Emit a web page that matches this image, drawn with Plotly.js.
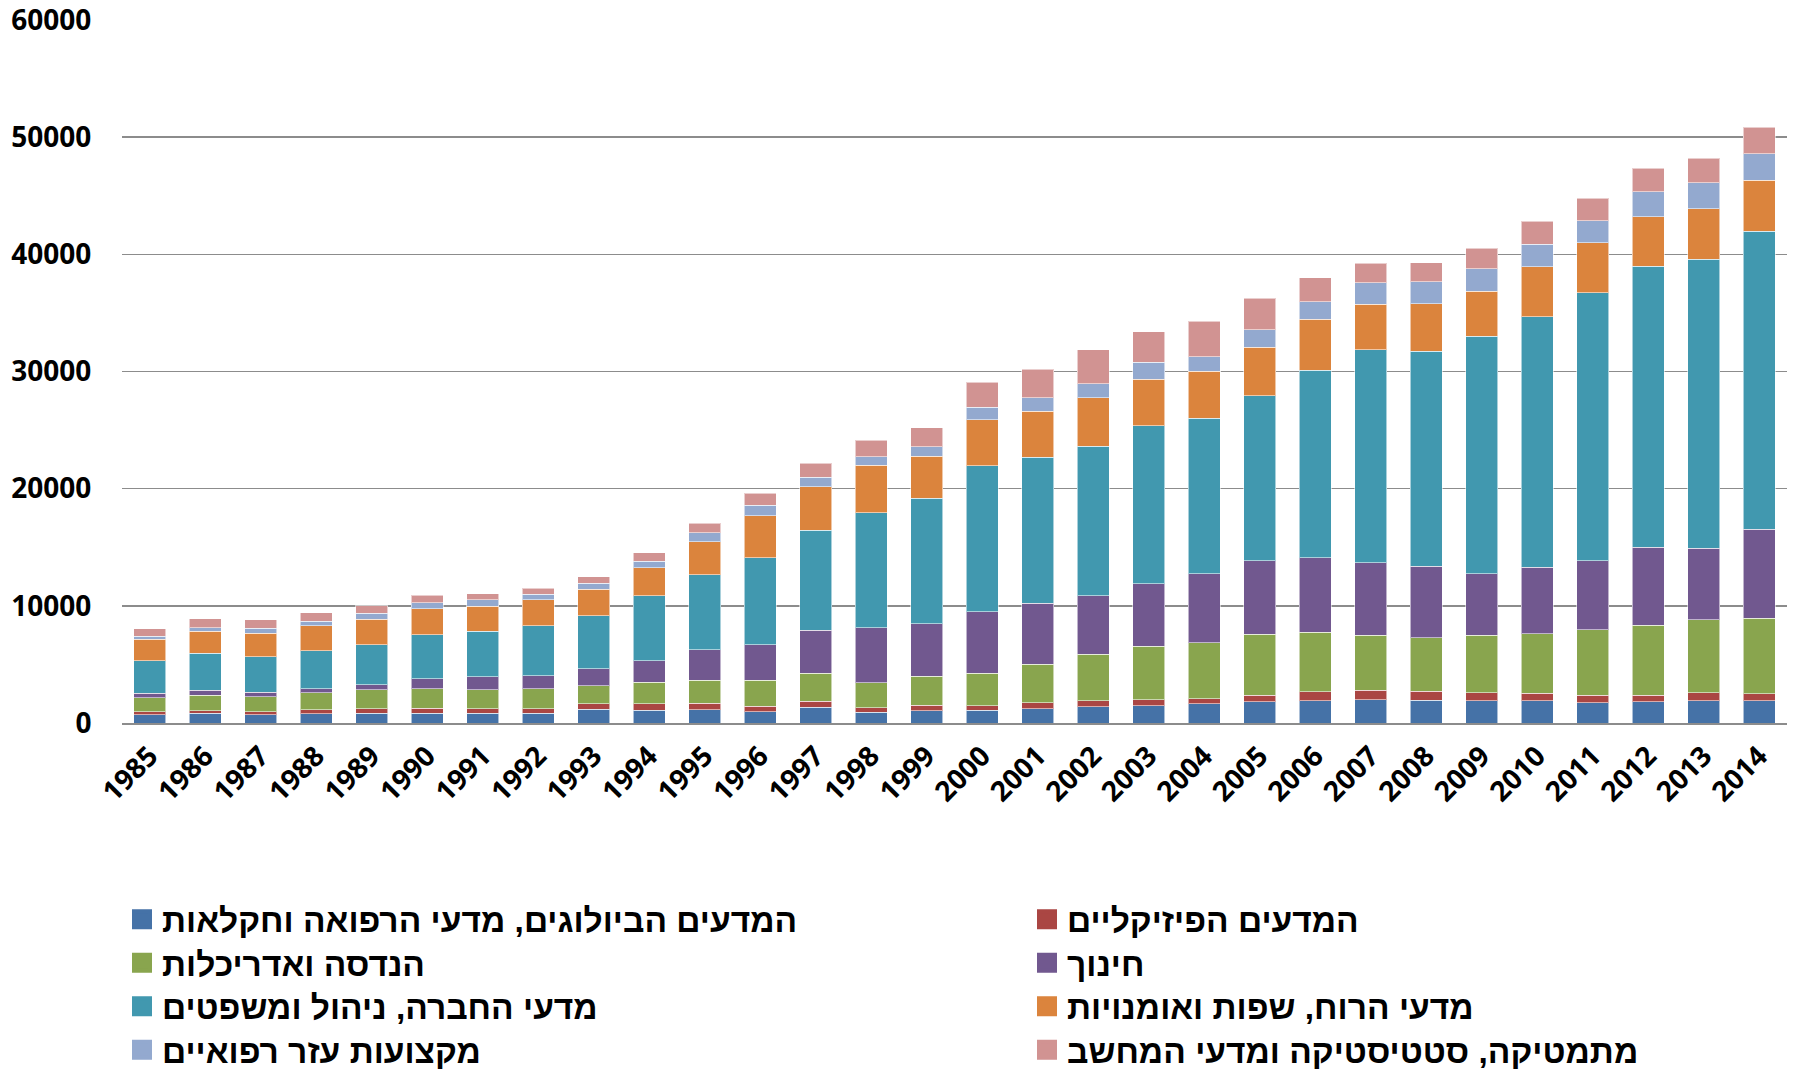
<!DOCTYPE html>
<html>
<head>
<meta charset="utf-8">
<script src="https://cdn.plot.ly/plotly-3.0.1.min.js"></script>
<style>html,body{margin:0;padding:0;background:#fff;}#chart{width:1796px;height:1071px;}</style>
</head>
<body>
<div id="chart"></div>
<script>
const years = ['1985','1986','1987','1988','1989','1990','1991','1992','1993','1994','1995','1996','1997','1998','1999','2000','2001','2002','2003','2004','2005','2006','2007','2008','2009','2010','2011','2012','2013','2014'];

const seriesNames = [
  'המדעים הביולוגים, מדעי הרפואה וחקלאות',
  'המדעים הפיזיקליים',
  'הנדסה ואדריכלות',
  'חינוך',
  'מדעי החברה, ניהול ומשפטים',
  'מדעי הרוח, שפות ואומנויות',
  'מקצועות עזר רפואיים',
  'מתמטיקה, סטטיסטיקה ומדעי המחשב'
];

const bio  = [710,830,710,800,850,830,830,830,1170,1100,1140,970,1360,910,1050,1080,1220,1390,1480,1640,1810,1920,1990,1950,1920,1920,1740,1810,1920,1920];
const phys = [260,220,230,310,380,450,400,400,480,530,540,480,490,400,460,400,510,490,510,450,560,760,800,770,660,620,630,560,660,590];
const eng  = [1200,1340,1310,1480,1620,1630,1620,1680,1540,1830,1960,2190,2380,2130,2500,2750,3300,4000,4570,4770,5190,5060,4700,4560,4910,5090,5570,5990,6240,6410];
const edu  = [370,400,370,340,430,880,1110,1140,1450,1840,2610,3060,3670,4690,4460,5260,5200,4970,5340,5860,6270,6370,6170,6100,5230,5680,5890,6620,6090,7630];
const soc  = [2790,3160,3050,3220,3420,3730,3850,4270,4530,5560,6390,7390,8550,9800,10730,12470,12470,12790,13470,13310,14080,15990,18190,18360,20310,21360,22890,24010,24670,25440];
const hum  = [1820,1860,1990,2170,2160,2250,2160,2190,2230,2410,2810,3580,3720,4060,3560,3920,3920,4120,3970,4000,4180,4360,3900,4040,3800,4250,4260,4220,4290,4350];
const med  = [260,340,430,370,510,510,540,460,540,540,770,910,800,740,820,1080,1140,1190,1430,1220,1460,1500,1810,1890,1950,1950,1880,2120,2230,2230];
const math = [650,740,710,710,630,630,520,540,540,730,850,1050,1190,1390,1620,2130,2440,2920,2610,3040,2720,2050,1670,1630,1740,1950,1910,2020,2120,2270];

const allSeries = [bio, phys, eng, edu, soc, hum, med, math];
const colors = ['#4572A7','#AA4643','#89A54E','#71588F','#4198AF','#DB843D','#93A9CF','#D19392'];

const traces = [];
allSeries.forEach((vals, i) => {
  traces.push({
    type: 'bar',
    name: seriesNames[i],
    x: years,
    y: vals,
    marker: {color: colors[i], line: {color: 'rgba(255,255,255,0.55)', width: 1}},
    showlegend: false,
    hoverinfo: 'x+y+name'
  });
});

const legName = i => (i === 0 ? 'legend' : 'legend' + (i + 1));
// legend entries (square swatches), one small legend per entry, laid out in 2 columns x 4 rows
allSeries.forEach((vals, i) => {
  traces.push({
    type: 'scatter',
    mode: 'markers',
    name: seriesNames[i],
    x: [null],
    y: [null],
    marker: {symbol: 'square', size: 16, color: colors[i], line: {color: colors[i], width: 4}},
    legend: legName(i),
    showlegend: true,
    hoverinfo: 'skip'
  });
});

const tickFontY = {family: 'Open Sans, DejaVu Sans, sans-serif', size: 28, color: '#000', weight: 'bold'};
const tickFontX = {family: 'Open Sans, DejaVu Sans, sans-serif', size: 28, color: '#000', weight: 'bold'};
const legFont = {family: 'Liberation Sans, Arial, DejaVu Sans, sans-serif', size: 33.5, color: '#000', weight: 'bold'};

const layout = {
  width: 1796,
  height: 1071,
  margin: {l: 122, r: 9, t: 20, b: 348, pad: 0},
  paper_bgcolor: '#fff',
  plot_bgcolor: '#fff',
  barmode: 'stack',
  bargap: 0.42,
  xaxis: {
    type: 'category',
    tickangle: -45,
    tickfont: tickFontX,
    showline: true,
    linecolor: '#8c8c8c',
    linewidth: 1.5,
    ticks: 'outside',
    ticklen: 4,
    tickcolor: 'rgba(0,0,0,0)',
    showgrid: false,
    zeroline: false
  },
  yaxis: {
    range: [0, 60000],
    dtick: 10000,
    tick0: 0,
    tickformat: 'd',
    tickfont: tickFontY,
    ticklabeloverflow: 'allow',
    showgrid: true,
    gridcolor: '#8c8c8c',
    gridwidth: 1.5,
    zeroline: false,
    showline: false,
    ticks: 'outside',
    ticklen: 24,
    tickcolor: 'rgba(0,0,0,0)'
  },
  showlegend: true
};

const rowCenters = [919.5, 963, 1006.5, 1050];
const colX = [0, (1027 - 122) / 1665];
allSeries.forEach((vals, i) => {
  const row = Math.floor(i / 2), col = i % 2;
  layout[legName(i)] = {
    x: colX[col], xanchor: 'left',
    y: 1 - rowCenters[row] / 1071, yref: 'container', yanchor: 'middle',
    orientation: 'v',
    font: legFont,
    bgcolor: 'rgba(0,0,0,0)',
    borderwidth: 0
  };
});

Plotly.newPlot('chart', traces, layout, {displayModeBar: false, staticPlot: true});
</script>
</body>
</html>
